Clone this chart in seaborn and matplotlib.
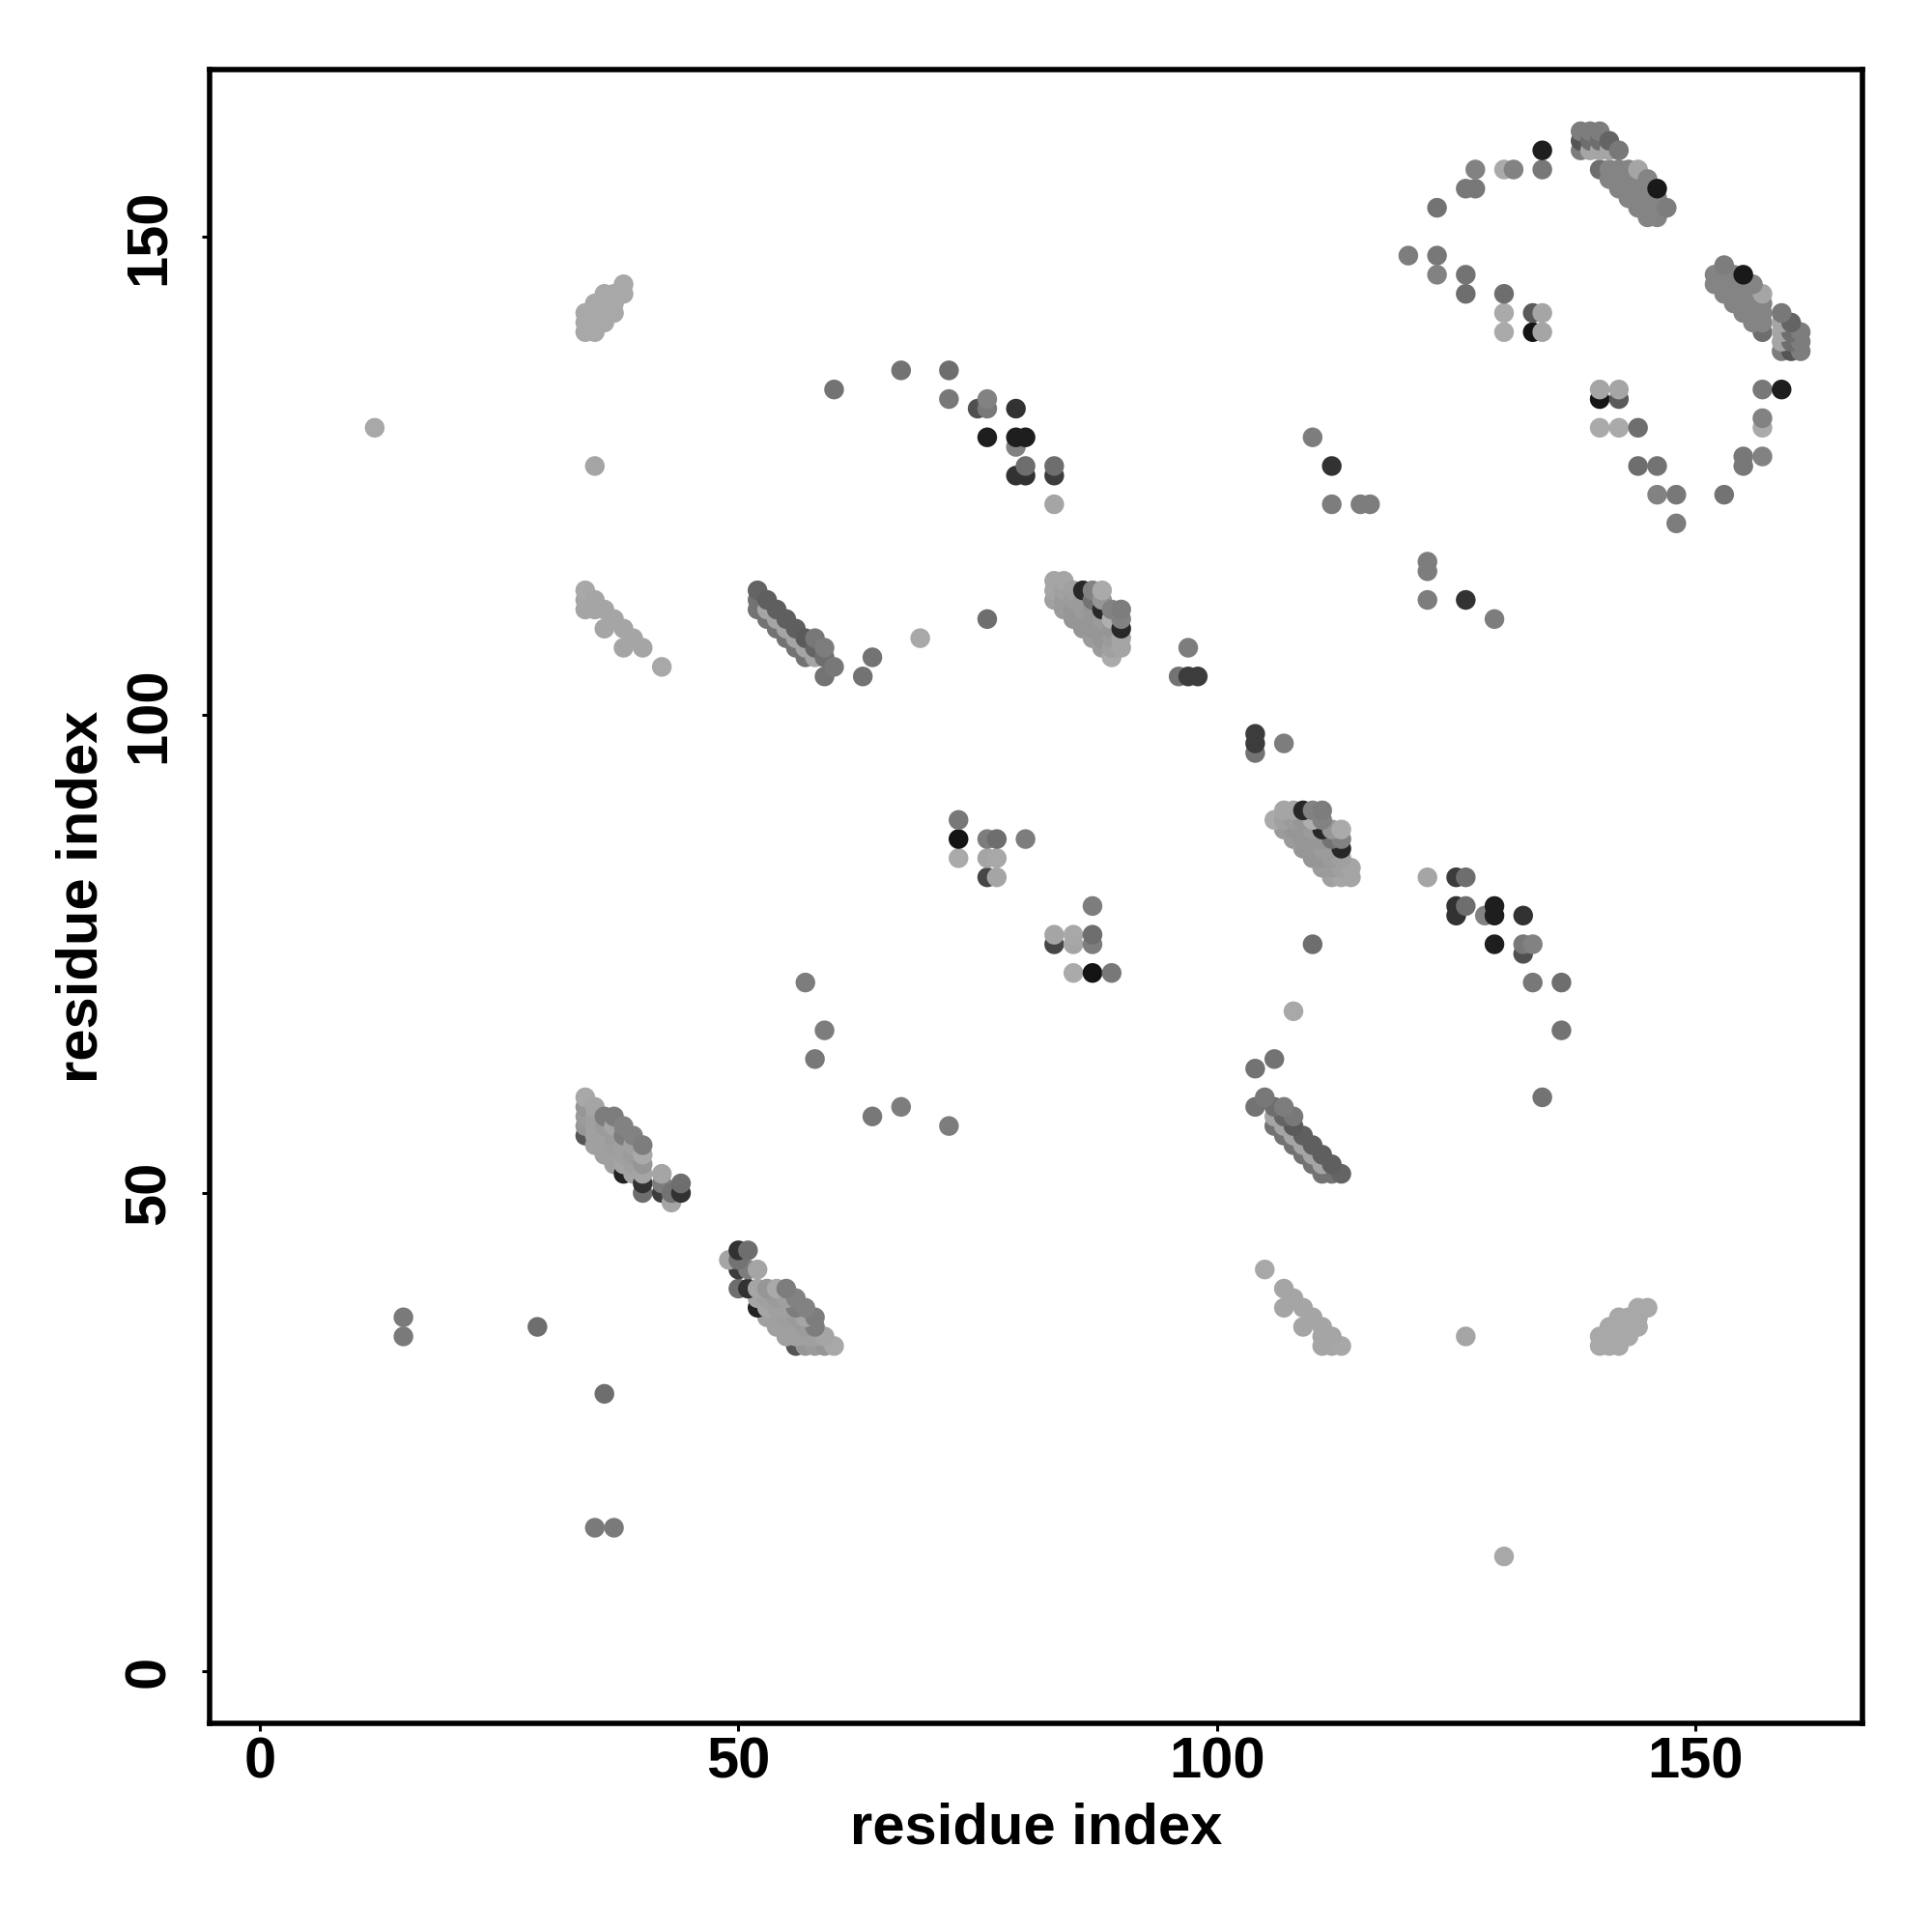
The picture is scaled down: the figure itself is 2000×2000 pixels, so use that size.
import pandas as pd
import matplotlib.pyplot as plt
import seaborn as sns

# upper triangle of the contact map: one list per residue i, (j, grey level)
contacts = {
    12: [(130, 168)],
    15: [(35, 122), (37, 122)],
    29: [(36, 110)],
    34: [(56, 85), (57, 150), (58, 155), (59, 150), (60, 168), (111, 165), (112, 165), (113, 168),
         (140, 168), (141, 168), (142, 168)],
    35: [(55, 160), (56, 160), (57, 160), (58, 160), (59, 165), (111, 165), (112, 165), (126, 165),
         (140, 168), (141, 168), (142, 168), (143, 168)],
    36: [(54, 160), (55, 160), (56, 160), (57, 155), (58, 125), (109, 165), (111, 165),
         (141, 168), (142, 168), (143, 168), (144, 168)],
    37: [(53, 160), (54, 160), (55, 158), (56, 155), (57, 165), (58, 125), (110, 165),
         (142, 168), (143, 168), (144, 168)],
    38: [(52, 35), (53, 165), (54, 160), (55, 160), (56, 125), (57, 130), (107, 165), (109, 165),
         (144, 168), (145, 168)],
    39: [(52, 165), (53, 160), (54, 155), (55, 160), (56, 130), (108, 165)],
    40: [(50, 110), (51, 50), (52, 165), (53, 150), (54, 170), (55, 125), (107, 165)],
    42: [(50, 60), (51, 125), (52, 165), (105, 168)],
    43: [(49, 165), (50, 115)],
    44: [(50, 50), (51, 110)],
    52: [(111, 115), (112, 115), (113, 100)],
    53: [(110, 115), (111, 165), (112, 95)],
    54: [(109, 115), (110, 165), (111, 95)],
    55: [(108, 115), (109, 165), (110, 95)],
    56: [(107, 115), (108, 165), (109, 95)],
    57: [(72, 125), (106, 115), (107, 165), (108, 90)],
    58: [(64, 120), (106, 165), (107, 100), (108, 120)],
    59: [(67, 125), (104, 115), (106, 110), (107, 125)],
    60: [(105, 120), (134, 115)],
    63: [(104, 115)],
    64: [(106, 115)],
    67: [(136, 115)],
    69: [(108, 168)],
    72: [(133, 120), (136, 110)],
    73: [(85, 170), (87, 20), (89, 120)],
    75: [(132, 80)],
    76: [(83, 70), (85, 165), (87, 125), (110, 110), (129, 30), (132, 120), (133, 130)],
    77: [(83, 165), (85, 168), (87, 110)],
    79: [(125, 50), (128, 130), (129, 30), (132, 50)],
    80: [(87, 125), (125, 50), (126, 110), (129, 30)],
    83: [(112, 160), (113, 165), (114, 165), (122, 165), (125, 60), (126, 110)],
    84: [(111, 155), (112, 155), (113, 160), (114, 165)],
    85: [(110, 150), (111, 150), (112, 155), (113, 160)],
    86: [(109, 150), (110, 150), (111, 155), (112, 155), (113, 40)],
    87: [(108, 155), (109, 150), (110, 150), (111, 150), (112, 115), (113, 130)],
    88: [(107, 155), (108, 150), (109, 150), (110, 155), (111, 40), (112, 150), (113, 170)],
    89: [(106, 170), (107, 160), (108, 155), (109, 150), (110, 175), (111, 130)],
    90: [(107, 165), (108, 165), (109, 40), (110, 130), (111, 125)],
    96: [(104, 115)],
    97: [(104, 60), (107, 125)],
    98: [(104, 60)],
    110: [(129, 125)],
    112: [(122, 125), (126, 50)],
    115: [(122, 125)],
    116: [(122, 125)],
    120: [(148, 125)],
    123: [(146, 130), (148, 120), (153, 115)],
    126: [(144, 110), (146, 115), (155, 120)],
    127: [(155, 120), (157, 130)],
    130: [(140, 170), (142, 170), (144, 110), (157, 170)],
    131: [(157, 130)],
    133: [(140, 20), (142, 90)],
    134: [(140, 165), (142, 165), (157, 120), (159, 30)],
    138: [(159, 125), (160, 85), (161, 125)],
    139: [(159, 165), (160, 110), (161, 125)],
    140: [(157, 110), (159, 165), (160, 110), (161, 125)],
    141: [(156, 132), (157, 132), (159, 165), (160, 100)],
    142: [(155, 132), (156, 132), (157, 132), (159, 120)],
    143: [(154, 132), (155, 132), (156, 132), (157, 132)],
    144: [(153, 132), (154, 132), (155, 132), (156, 132), (157, 165)],
    145: [(152, 132), (153, 132), (154, 132), (155, 132), (156, 132)],
    146: [(152, 132), (153, 132), (154, 132), (155, 25)],
    147: [(153, 125)],
}
tick_values = [0, 50, 100, 150]
axis_label = "residue index"

rows = []
for i, partners in contacts.items():
    for j, grey in partners:
        rows.append((i, j, grey))
        rows.append((j, i, grey))
df = pd.DataFrame(rows, columns=["x", "y", "grey"])

sns.set_theme(style="white")
plt.rcParams["font.family"] = ["Liberation Sans", "DejaVu Sans"]
plt.rcParams["font.weight"] = "bold"

fig = plt.figure(figsize=(10, 10), dpi=200)
ax = fig.add_axes([217 / 2000, 1 - 1784 / 2000, 1711 / 2000, 1712 / 2000])

grey_map = {g: (g / 255, g / 255, g / 255) for g in df["grey"].unique()}
sns.scatterplot(data=df, x="x", y="y", hue="grey", palette=grey_map, s=54,
                linewidth=0, legend=False, ax=ax)

ax.set_xlim(-5.25, 167.45)
ax.set_ylim(-5.45, 167.45)
ax.set_xticks(tick_values)
ax.set_yticks(tick_values)
ax.tick_params(axis="both", length=3, width=1.1, color="black", labelsize=21.5,
               labelcolor="black", bottom=True, left=True)
ax.tick_params(axis="x", pad=2)
ax.tick_params(axis="y", pad=9.5)
for label in ax.get_yticklabels():
    label.set_rotation(90)
    label.set_va("center")
ax.set_xlabel(axis_label, fontsize=21.5, fontweight="bold", color="black", labelpad=4.6)
ax.set_ylabel(axis_label, fontsize=21.5, fontweight="bold", color="black", labelpad=5.2)
for spine in ax.spines.values():
    spine.set_linewidth(2.0)
    spine.set_color("black")

fig.savefig("out.png", dpi=200)
